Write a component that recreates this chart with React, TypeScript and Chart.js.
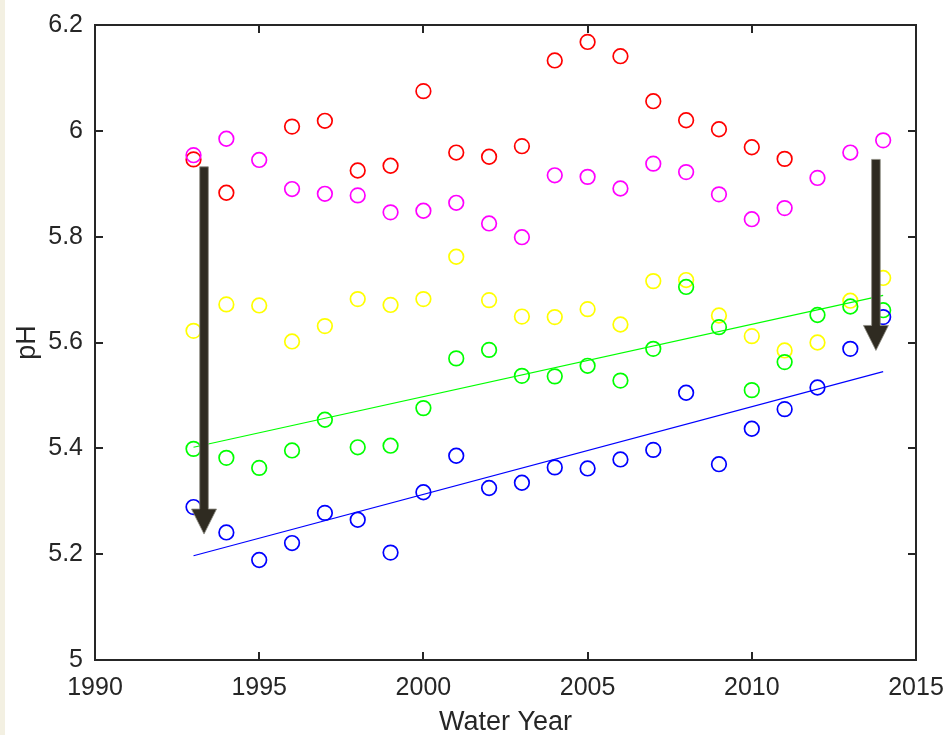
import React, { useEffect, useRef } from "react";
import { Chart, registerables } from "chart.js";

Chart.register(...registerables);

const years = [1993, 1994, 1995, 1996, 1997, 1998, 1999, 2000, 2001, 2002, 2003, 2004, 2005, 2006, 2007, 2008, 2009, 2010, 2011, 2012, 2013, 2014];
const redPH = [5.946, 5.883, null, 6.008, 6.019, 5.925, 5.934, 6.075, 5.959, 5.951, 5.971, 6.133, 6.168, 6.141, 6.056, 6.020, 6.003, 5.969, 5.947, null, null, null];
const magentaPH = [5.954, 5.985, 5.945, 5.890, 5.881, 5.878, 5.846, 5.849, 5.864, 5.825, 5.799, 5.916, 5.913, 5.891, 5.938, 5.922, 5.880, 5.833, 5.854, 5.911, 5.959, 5.982];
const yellowPH = [5.622, 5.672, 5.670, 5.602, 5.631, 5.682, 5.671, 5.682, 5.762, 5.680, 5.649, 5.648, 5.663, 5.634, 5.716, 5.718, 5.651, 5.612, 5.585, 5.600, 5.679, 5.722];
const greenPH = [5.399, 5.382, 5.363, 5.396, 5.454, 5.402, 5.405, 5.476, 5.570, 5.586, 5.537, 5.536, 5.556, 5.528, 5.588, 5.705, 5.629, 5.510, 5.563, 5.652, 5.668, 5.661];
const bluePH = [5.289, 5.241, 5.189, 5.221, 5.278, 5.265, 5.203, 5.317, 5.386, 5.325, 5.335, 5.364, 5.362, 5.379, 5.397, 5.505, 5.370, 5.437, 5.474, 5.515, 5.588, 5.648];

const trendYears = [1993, 2014];
const greenTrend = [5.402, 5.689];
const blueTrend = [5.197, 5.545];

// annotation arrows: [year, top pH, tip pH]
const arrowLeft = [1993.32, 5.932, 5.238];
const arrowRight = [2013.78, 5.946, 5.585];

const xTicks = [1990, 1995, 2000, 2005, 2010, 2015];
const yTicks = [5, 5.2, 5.4, 5.6, 5.8, 6, 6.2];

const FONT = "'Liberation Sans', Arial, Helvetica, sans-serif";
const INK = "#262626";

function pts(xs: number[], ys: (number | null)[]) {
  const out: { x: number; y: number }[] = [];
  xs.forEach((x, i) => {
    const y = ys[i];
    if (y !== null && y !== undefined) out.push({ x, y });
  });
  return out;
}

const boxPlugin = {
  id: "boxTicks",
  afterDatasetsDraw(chart: any) {
    const { ctx, chartArea, scales } = chart;
    const { left, right, top, bottom } = chartArea;
    const xs = scales.x;
    const ys = scales.y;
    ctx.save();

    const drawArrow = (a: number[]) => {
      const cx = xs.getPixelForValue(a[0]);
      const y0 = ys.getPixelForValue(a[1]);
      const y1 = ys.getPixelForValue(a[2]);
      const sw = 4.3;
      const hw = 12.5;
      const hl = 25;
      ctx.beginPath();
      ctx.moveTo(cx - sw, y0);
      ctx.lineTo(cx + sw, y0);
      ctx.lineTo(cx + sw, y1 - hl);
      ctx.lineTo(cx + hw, y1 - hl);
      ctx.lineTo(cx, y1);
      ctx.lineTo(cx - hw, y1 - hl);
      ctx.lineTo(cx - sw, y1 - hl);
      ctx.closePath();
      ctx.fillStyle = "#2F2B21";
      ctx.fill();
      ctx.lineWidth = 0.8;
      ctx.strokeStyle = "#8C8A80";
      ctx.stroke();
    };
    drawArrow(arrowLeft);
    drawArrow(arrowRight);

    ctx.strokeStyle = INK;
    ctx.lineWidth = 2;
    ctx.beginPath();
    ctx.rect(left, top, right - left, bottom - top);
    ctx.stroke();
    const tl = 8;
    ctx.beginPath();
    xTicks.forEach((v) => {
      const px = Math.round(xs.getPixelForValue(v));
      ctx.moveTo(px, bottom);
      ctx.lineTo(px, bottom - tl);
      ctx.moveTo(px, top);
      ctx.lineTo(px, top + tl);
    });
    yTicks.forEach((v) => {
      const py = Math.round(ys.getPixelForValue(v));
      ctx.moveTo(left, py);
      ctx.lineTo(left + tl, py);
      ctx.moveTo(right, py);
      ctx.lineTo(right - tl, py);
    });
    ctx.stroke();
    ctx.restore();
  },
};

const circle = (color: string, order: number, data: (number | null)[], label: string) => ({
  type: "scatter" as const,
  label,
  data: pts(years, data),
  showLine: false,
  pointStyle: "circle",
  pointRadius: 7.3,
  pointHoverRadius: 7.3,
  pointBorderWidth: 1.7,
  borderColor: color,
  backgroundColor: "rgba(0,0,0,0)",
  order,
});

const trend = (color: string, order: number, data: number[], label: string) => ({
  type: "line" as const,
  label,
  data: pts(trendYears, data),
  showLine: true,
  pointRadius: 0,
  borderColor: color,
  borderWidth: 1.2,
  fill: false,
  order,
});

export default function App() {
  const ref = useRef<HTMLCanvasElement | null>(null);

  useEffect(() => {
    document.body.style.margin = "0";
    const canvas = ref.current;
    if (!canvas) return;
    const chart = new Chart(canvas, {
      type: "scatter",
      data: {
        datasets: [
          trend("#0000FF", 0, blueTrend, "blue trend"),
          trend("#00FF00", 1, greenTrend, "green trend"),
          circle("#0000FF", 2, bluePH, "blue"),
          circle("#00FF00", 3, greenPH, "green"),
          circle("#FFFF00", 4, yellowPH, "yellow"),
          circle("#FF00FF", 5, magentaPH, "magenta"),
          circle("#FF0000", 6, redPH, "red"),
        ] as any,
      },
      options: {
        animation: false,
        responsive: false,
        maintainAspectRatio: false,
        devicePixelRatio: 1,
        layout: { padding: { top: 25, right: 28, left: 0, bottom: 0 } },
        plugins: {
          legend: { display: false },
          tooltip: { enabled: false },
        },
        scales: {
          x: {
            type: "linear",
            min: 1990,
            max: 2015,
            border: { display: false },
            grid: { display: false, drawTicks: false },
            ticks: {
              stepSize: 5,
              padding: 13,
              color: INK,
              font: { family: FONT, size: 25 },
              maxRotation: 0,
              callback: (v: any) => String(v),
            },
            title: {
              display: true,
              text: "Water Year",
              color: INK,
              font: { family: FONT, size: 27, lineHeight: 0.9 },
              padding: { top: 0, bottom: 0 },
            },
            afterFit: (s: any) => {
              s.height = 75;
              s.paddingLeft = 0;
              s.paddingRight = 0;
            },
          },
          y: {
            type: "linear",
            min: 5,
            max: 6.2,
            border: { display: false },
            grid: { display: false, drawTicks: false },
            ticks: {
              stepSize: 0.2,
              padding: 12,
              color: INK,
              font: { family: FONT, size: 25 },
              callback: (v: any) => String(Number(Number(v).toFixed(1))),
            },
            title: {
              display: true,
              text: "pH",
              color: INK,
              font: { family: FONT, size: 27, lineHeight: 0.9 },
              padding: { top: 15, bottom: 0 },
            },
            afterFit: (s: any) => {
              s.width = 95;
              s.paddingTop = 0;
              s.paddingBottom = 0;
            },
          },
        },
      } as any,
      plugins: [boxPlugin],
    });
    return () => chart.destroy();
  }, []);

  return (
    <div style={{ position: "fixed", left: 0, top: 0, width: 944, height: 735, background: "#FFFFFF" }}>
      <canvas ref={ref} width={944} height={735} style={{ position: "absolute", left: 0, top: 0, width: 944, height: 735 }} />
      <div style={{ position: "absolute", left: 0, top: 0, width: 5, height: 735, background: "#F3F0E2" }} />
    </div>
  );
}
